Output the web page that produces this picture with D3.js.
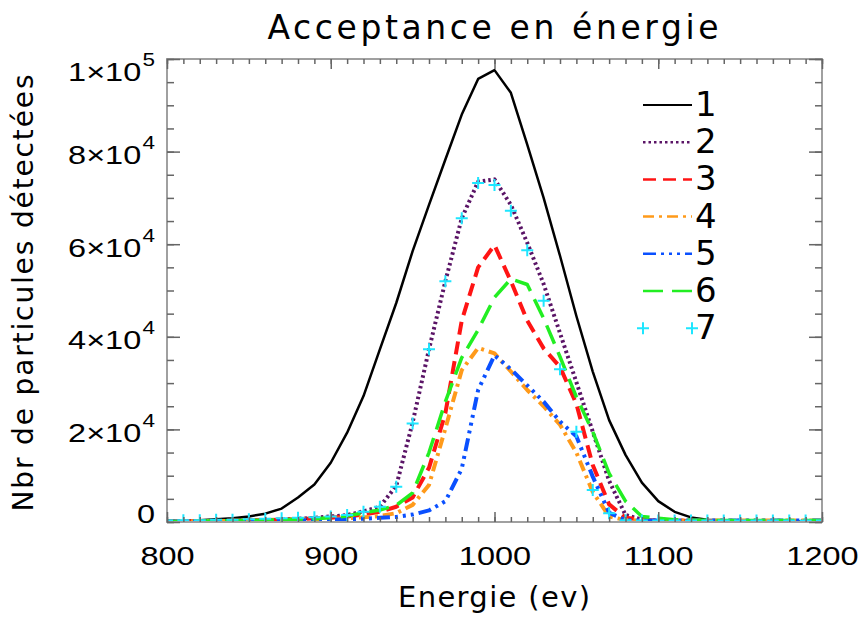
<!DOCTYPE html>
<html>
<head>
<meta charset="utf-8">
<script src="https://cdn.jsdelivr.net/npm/d3@7"></script>
<style>
  body { margin: 0; background: #fff; }
  svg { display: block; font-family: "DejaVu Sans", sans-serif; }
</style>
</head>
<body>
<svg id="chart" width="864" height="617"></svg>
<script>
// energies (ev), one point every 10 ev
var energie = [800, 810, 820, 830, 840, 850, 860, 870, 880, 890,
  900, 910, 920, 930, 940, 950, 960, 970, 980, 990,
  1000, 1010, 1020, 1030, 1040, 1050, 1060, 1070, 1080, 1090,
  1100, 1110, 1120, 1130, 1140, 1150, 1160, 1170, 1180, 1190, 1200];

// nbr de particules detectees
var serie1 = [100, 200, 400, 600, 800, 1200, 1800, 2900, 5300, 8100,
  12800, 19300, 27200, 37300, 47300, 58500, 68500, 78300, 88000, 95700,
  97600, 92700, 81500, 70000, 57500, 44500, 32500, 22000, 14500, 8500,
  4500, 2200, 1000, 500, 300, 200, 200, 100, 100, 100, 100];
var serie2 = [100, 100, 200, 200, 300, 300, 400, 500, 700, 900,
  1200, 1500, 2300, 3300, 7800, 21500, 37300, 52000, 65600, 73500,
  74000, 68500, 60300, 51400, 40800, 30200, 19500, 8900, 1500, 500,
  300, 300, 200, 200, 200, 200, 200, 200, 200, 200, 200];
var serie3 = [100, 100, 200, 200, 300, 300, 400, 500, 600, 800,
  900, 1200, 1600, 2200, 3300, 5300, 11700, 23500, 43500, 55000,
  59800, 52000, 43500, 37500, 33500, 25500, 12300, 3800, 900, 500,
  300, 300, 200, 200, 200, 200, 200, 200, 200, 200, 200];
var serie4 = [100, 100, 200, 200, 200, 300, 300, 400, 500, 600,
  700, 800, 1000, 1300, 1900, 3700, 8000, 20200, 32800, 37600,
  36400, 32500, 28500, 25000, 21000, 15000, 6500, 1200, 400, 300,
  300, 300, 300, 300, 300, 300, 300, 300, 300, 300, 300];
var serie5 = [100, 100, 100, 200, 200, 200, 300, 300, 400, 400,
  500, 600, 700, 900, 1100, 1600, 2500, 4500, 11500, 28500,
  36000, 33000, 29500, 26000, 21700, 18500, 9800, 2000, 400, 300,
  300, 300, 300, 300, 300, 300, 300, 300, 300, 300, 300];
var serie6 = [100, 100, 200, 200, 300, 300, 400, 500, 600, 700,
  900, 1300, 2000, 2600, 3600, 6300, 15000, 26000, 35500, 41500,
  48500, 52500, 51300, 44000, 35700, 27000, 19500, 10500, 4500, 1200,
  800, 500, 400, 400, 300, 300, 300, 300, 300, 300, 300];
var serie7 = [300, 400, 400, 500, 500, 600, 700, 800, 900, 1000,
  1200, 1500, 2200, 3300, 7600, 21300, 37300, 52000, 65600, 73200,
  72800, 67200, 58700, 47800, 33000, 19500, 6900, 1900, 400, 300,
  300, 300, 300, 300, 300, 300, 300, 300, 300, 300, 300];

var noms = ["1", "2", "3", "4", "5", "6", "7"];
var xTicks = [800, 900, 1000, 1100, 1200];
var yTicks = [0, 20000, 40000, 60000, 80000, 100000];

var styles = [
  { color: "#000000", width: 2.5, dash: null },
  { color: "#5a1466", width: 4, dash: "2.5,3" },
  { color: "#ff1414", width: 4, dash: "13,7" },
  { color: "#ff9a1a", width: 4, dash: "11,5,3,5" },
  { color: "#0a50ff", width: 4, dash: "13,5,3,5,3,5,3,5" },
  { color: "#22ee22", width: 3.5, dash: "20,9" },
  { color: "#1ee6ff", width: 2, dash: null, plus: true }
];
var series = [serie1, serie2, serie3, serie4, serie5, serie6, serie7];

var svg = d3.select("#chart");
var L = 167, R = 822, T = 59, B = 522;
var sx = 1.25; // tick labels are a wide face, stretch them a bit

var x = d3.scaleLinear().domain([800, 1200]).range([L, R]);
var y = d3.scaleLinear().domain([0, 100000]).range([B, T]);

svg.append("clipPath").attr("id", "clip")
  .append("rect").attr("x", L).attr("y", T).attr("width", R - L).attr("height", B - T);

// curves
var line = d3.line()
  .x(function(d, i) { return x(energie[i]); })
  .y(function(d) { return y(d); });

var plot = svg.append("g").attr("clip-path", "url(#clip)");
series.forEach(function(s, k) {
  var st = styles[k];
  if (st.plus) {
    plot.append("g").selectAll("path")
      .data(s).enter().append("path")
      .attr("d", function(d, i) {
        var cx = x(energie[i]), cy = y(d);
        return "M" + (cx - 6) + "," + cy + "H" + (cx + 6) + "M" + cx + "," + (cy - 6) + "V" + (cy + 6);
      })
      .attr("stroke", st.color).attr("stroke-width", st.width).attr("fill", "none");
  } else {
    plot.append("path").datum(s)
      .attr("d", line)
      .attr("fill", "none")
      .attr("stroke", st.color)
      .attr("stroke-width", st.width)
      .attr("stroke-dasharray", st.dash)
      .attr("stroke-linejoin", "round");
  }
});

// frame
svg.append("rect").attr("x", L).attr("y", T).attr("width", R - L).attr("height", B - T)
  .attr("fill", "none").attr("stroke", "#a0a0a0").attr("stroke-width", 2);

var xMinor = d3.range(800, 1201, 10);
var yMinor = d3.range(0, 100001, 5000);

function styleTicks(g) {
  g.select(".domain").remove();
  g.selectAll(".tick line").attr("stroke", "#666").attr("stroke-width", 1.5);
}

svg.append("g").attr("transform", "translate(0," + B + ")")
  .call(d3.axisBottom(x).tickValues(xMinor).tickSize(-5).tickFormat("")).call(styleTicks);
svg.append("g").attr("transform", "translate(0," + T + ")")
  .call(d3.axisTop(x).tickValues(xMinor).tickSize(-5).tickFormat("")).call(styleTicks);
svg.append("g").attr("transform", "translate(0," + T + ")")
  .call(d3.axisTop(x).tickValues(xTicks).tickSize(-10).tickFormat("")).call(styleTicks);
svg.append("g").attr("transform", "translate(" + L + ",0)")
  .call(d3.axisLeft(y).tickValues(yMinor).tickSize(-7).tickFormat("")).call(styleTicks);
svg.append("g").attr("transform", "translate(" + R + ",0)")
  .call(d3.axisRight(y).tickValues(yMinor).tickSize(-7).tickFormat("")).call(styleTicks);
svg.append("g").attr("transform", "translate(" + R + ",0)")
  .call(d3.axisRight(y).tickValues(yTicks).tickSize(-13).tickFormat("")).call(styleTicks);

// bottom axis with labels
var gx = svg.append("g").attr("transform", "translate(0," + B + ")")
  .call(d3.axisBottom(x).tickValues(xTicks).tickSize(-10).tickFormat(d3.format("d")))
  .call(styleTicks);
gx.selectAll(".tick text")
  .attr("y", 43).attr("dy", null)
  .attr("fill", "#000")
  .attr("transform", "scale(" + sx + ",1)")
  .style("font-size", "26px");

// left axis with a x10^n labels
var gy = svg.append("g").attr("transform", "translate(" + L + ",0)")
  .call(d3.axisLeft(y).tickValues(yTicks).tickSize(-13).tickPadding(12))
  .call(styleTicks);
gy.selectAll(".tick text").each(function(v) {
  var t = d3.select(this).text(null)
    .attr("fill", "#000").attr("dy", null)
    .attr("x", -12 / sx)
    .attr("transform", "scale(" + sx + ",1)")
    .style("font-size", "26px");
  var ty = Math.max(Math.min(12, B - y(v)), 80 - y(v));
  t.attr("y", ty);
  if (v === 0) { t.text("0"); return; }
  var e = Math.floor(Math.log10(v));
  var m = Math.round(v / Math.pow(10, e));
  t.append("tspan").text(m + "\u00d710");
  t.append("tspan").attr("dy", -15).attr("dx", 1).style("font-size", "18px").text(e);
});

// titles
svg.append("text").attr("x", 493).attr("y", 39)
  .attr("text-anchor", "middle").attr("textLength", 451).attr("lengthAdjust", "spacing")
  .style("font-size", "33px").text("Acceptance en énergie");
svg.append("text").attr("x", 494).attr("y", 607)
  .attr("text-anchor", "middle").attr("textLength", 192).attr("lengthAdjust", "spacing")
  .style("font-size", "29px").text("Energie (ev)");
svg.append("text")
  .attr("transform", "translate(33,293) rotate(-90)")
  .attr("text-anchor", "middle").attr("textLength", 437).attr("lengthAdjust", "spacing")
  .style("font-size", "28px").text("Nbr de particules détectées");

// legend
var leg = svg.append("g").selectAll("g").data(noms).enter().append("g")
  .attr("transform", function(d, i) { return "translate(643," + (105 + i * 37.2) + ")"; });
leg.each(function(d, i) {
  var g = d3.select(this), st = styles[i];
  if (st.plus) {
    [0, 49].forEach(function(px) {
      g.append("path").attr("d", "M" + (px - 6) + ",0H" + (px + 6) + "M" + px + ",-6V6")
        .attr("stroke", st.color).attr("stroke-width", 2);
    });
  } else {
    g.append("line").attr("x1", 0).attr("x2", 49)
      .attr("stroke", st.color).attr("stroke-width", i === 0 ? 2 : 2.5)
      .attr("stroke-dasharray", st.dash);
  }
  g.append("text").attr("x", 52).attr("y", 11).style("font-size", "34px").text(d);
});
</script>
</body>
</html>
